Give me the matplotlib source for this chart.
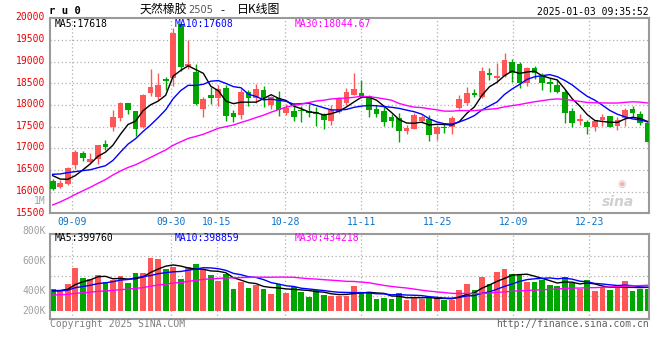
import numpy as np
import matplotlib
matplotlib.use("Agg")
import matplotlib.pyplot as plt
from matplotlib import transforms

# ------------------------------------------------------------------ data
dates = ["09-04", "09-05", "09-06", "09-09", "09-10", "09-11", "09-12", "09-13", "09-18", "09-19",
         "09-20", "09-23", "09-24", "09-25", "09-26", "09-27", "09-30",
         "10-08", "10-09", "10-10", "10-11", "10-14", "10-15", "10-16", "10-17", "10-18", "10-21",
         "10-22", "10-23", "10-24", "10-25", "10-28", "10-29", "10-30", "10-31",
         "11-01", "11-04", "11-05", "11-06", "11-07", "11-08", "11-11", "11-12", "11-13", "11-14",
         "11-15", "11-18", "11-19", "11-20", "11-21", "11-22", "11-25", "11-26", "11-27", "11-28", "11-29",
         "12-02", "12-03", "12-04", "12-05", "12-06", "12-09", "12-10", "12-11", "12-12", "12-13",
         "12-16", "12-17", "12-18", "12-19", "12-20", "12-23", "12-24", "12-25", "12-26", "12-27",
         "12-30", "12-31", "01-02", "01-03"]

open_ = [16246, 16100, 16185, 16608, 16885, 16692, 16746, 17092, 17500, 17692,
         18046, 17862, 17485, 18285, 18177, 18600, 18615, 19869, 18892, 18769,
         17908, 18231, 18154, 18392, 17815, 17769, 18300, 18154, 18346, 18000,
         18154, 17823, 17862, 17885, 17862, 17823, 17769, 17638, 17846, 18038,
         18231, 18269, 18208, 17908, 17862, 17723, 17708, 17408, 17454, 17638,
         17677, 17331, 17500, 17485, 17923, 18038, 18285, 18177, 18731, 18631,
         18677, 18985, 18938, 18500, 18862, 18669, 18531, 18462, 18308, 17862,
         17631, 17615, 17500, 17654, 17746, 17515, 17692, 17908, 17792, 17592]
high = [16285, 16270, 16577, 16969, 16946, 16892, 17085, 17192, 17885, 18062,
        18054, 17870, 18254, 18831, 18731, 18654, 19769, 19880, 19500, 18946,
        18177, 18423, 18454, 18454, 17885, 18362, 18346, 18485, 18438, 18208,
        18323, 18023, 18038, 17977, 18015, 17962, 17808, 18000, 18192, 18385,
        18731, 18577, 18231, 18000, 17962, 17785, 17808, 17538, 17808, 17769,
        17762, 17538, 17592, 17746, 18231, 18408, 18369, 18869, 18846, 18977,
        19192, 19062, 19000, 18885, 18900, 18731, 18615, 18577, 18346, 17923,
        17792, 17654, 17654, 17792, 17746, 17715, 17938, 17977, 17862, 17615]
low = [16038, 16077, 16162, 16515, 16715, 16654, 16638, 16962, 17408, 17638,
       17792, 17292, 17462, 18208, 18115, 18346, 18438, 18792, 18823, 18000,
       17731, 18015, 17985, 17631, 17615, 17677, 17985, 18038, 17962, 17900,
       17754, 17762, 17631, 17615, 17715, 17515, 17454, 17538, 17808, 18000,
       18231, 18154, 17715, 17715, 17515, 17485, 17154, 17323, 17438, 17592,
       17177, 17192, 17362, 17323, 17900, 18000, 18192, 18170, 18577, 18538,
       18654, 18538, 18385, 18438, 18592, 18346, 18308, 18285, 17577, 17500,
       17538, 17323, 17408, 17515, 17500, 17423, 17515, 17731, 17538, 17100]
close = [16062, 16200, 16554, 16915, 16777, 16762, 17069, 17023, 17731, 18039,
         17885, 17454, 18231, 18408, 18462, 18562, 19669, 18885, 18938, 18023,
         18139, 18169, 18377, 17746, 17723, 18308, 18169, 18377, 18154, 18177,
         17885, 17923, 17731, 17854, 17808, 17792, 17654, 17885, 18131, 18300,
         18369, 18208, 17885, 17792, 17608, 17631, 17408, 17477, 17769, 17731,
         17308, 17485, 17462, 17692, 18131, 18269, 18223, 18785, 18692, 18646,
         19038, 18746, 18515, 18862, 18731, 18515, 18477, 18308, 17823, 17592,
         17669, 17485, 17638, 17715, 17500, 17654, 17885, 17823, 17577, 17154]
volume = [411400, 400300, 444700, 553600, 487000, 475900, 504800, 458000, 471400, 500300,
          451400, 518100, 518100, 620300, 613600, 547000, 560300, 480300, 555800, 578000,
          540300, 504800, 467000, 509200, 411400, 460300, 420300, 435800, 413600, 378000,
          444700, 386900, 422500, 393600, 360300, 404700, 371400, 366900, 366900, 366900,
          431300, 391300, 391300, 344700, 351400, 344700, 384700, 338000, 351400, 344700,
          358000, 351400, 338000, 338000, 404700, 444700, 404700, 491300, 444700, 524700,
          544700, 511300, 511300, 458000, 458000, 471300, 438000, 431300, 491300, 451300,
          413600, 471300, 398000, 422500, 404700, 422500, 464700, 398000, 413600, 413600]

# sessions before the window (not drawn), estimated from where the MA lines start
pre_close = [14050, 14120, 14200, 14260, 14300, 14350, 14420, 14541,
             15300, 15450, 15600, 15700, 15800, 15900, 15981,
             16400, 16500, 16600, 16650, 16638,
             16120, 16254, 16675, 16547, 16559, 16595, 16579, 16495, 16114]
pre_volume = [350000, 365000, 340000, 372000, 360000, 348000, 366000, 355000, 370000, 345000,
              362000, 358000, 350000, 368000, 365500,
              352000, 360000, 348000, 362000, 353500,
              390000, 402000, 385000, 408000, 395000,
              392000, 405000, 398000, 393600]

tick_dates = ["09-09", "09-30", "10-15", "10-28", "11-11", "11-25", "12-09", "12-23"]
price_ticks = [15500, 16000, 16500, 17000, 17500, 18000, 18500, 19000, 19500, 20000]
vol_tick_labels = ["800K", "600K", "400K", "200K"]
price_legend = ["MA5:17618", "MA10:17608", "MA30:18044.67"]
vol_legend = ["MA5:399760", "MA10:398859", "MA30:434218"]
symbol = "r u 0"
title_name = "天然橡胶"
title_code = "2505"
title_kind = "日K线图"
timestamp = "2025-01-03 09:35:52"
copyright_txt = "Copyright 2025 SINA.COM"
url_txt = "http://finance.sina.com.cn"

# ------------------------------------------------------------------ style
RED = "#ff5757"
GREEN = "#00a600"
MA_COLORS = ["#000000", "#0000ff", "#ff00ff"]
GRID = "#b0b0b0"
FRAME = "#9a9a9a"
MONO = "DejaVu Sans Mono"
CJK = ["Noto Sans CJK SC", "DejaVu Sans"]

W, H = 660, 360
fig = plt.figure(figsize=(W / 100, H / 100), dpi=100)
fig.patch.set_facecolor("white")


def fx(px):
    return px / W


def fy(py):
    return 1 - py / H


P_L, P_R, P_T, P_B = 50, 649, 18.3, 213.3
V_T, V_B = 234.3, 319.3
axp = fig.add_axes([fx(P_L), fy(P_B), (P_R - P_L) / W, (P_B - P_T) / H])
axv = fig.add_axes([fx(P_L), fy(V_B), (P_R - P_L) / W, (V_B - V_T) / H])

n = len(close)
x = np.arange(n)
o = np.array(open_, float)
h = np.array(high, float)
l = np.array(low, float)
c = np.array(close, float)
v = np.array(volume, float)
up = c >= o
cols = np.where(up, RED, GREEN)

STEP = 7.53          # px per session
X0 = 52.7            # px of first session
xlim = ((P_L - X0) / STEP, (P_R - X0) / STEP)


def sma(series, k):
    return np.convolve(series, np.ones(k) / k, mode="valid")


full_c = np.r_[np.array(pre_close, float), c]
full_v = np.r_[np.array(pre_volume, float), v]
ma_p = [sma(full_c, k)[-n:] for k in (5, 10, 30)]
ma_v = [sma(full_v, k)[-n:] for k in (5, 10, 30)]

# grid positions for date labels (Sina spaces them slightly wider than bars)
tick_idx = np.array([dates.index(d) for d in tick_dates], float)
grid_x = tick_idx - 0.43 + 0.0097 * tick_idx

# ---------------- price panel
axp.set_xlim(*xlim)
axp.set_ylim(15500, 20000)
for yv in price_ticks[1:-1]:
    axp.axhline(yv, color=GRID, lw=0.9, ls=(0, (1, 2)), zorder=0)
for gx in grid_x:
    axp.axvline(gx, color=GRID, lw=0.9, ls=(0, (1, 2)), zorder=0)

axp.vlines(x, l, h, colors=cols, lw=1.0, zorder=2)
body_bot = np.minimum(o, c)
body_h = np.maximum(np.abs(c - o), 40)
axp.bar(x, body_h, bottom=body_bot, width=0.76, color=cols, lw=0, zorder=3)
for m, col in zip(ma_p, MA_COLORS):
    axp.plot(x, m, color=col, lw=1.0, zorder=4)

axp.set_xticks([])
axp.set_yticks(price_ticks)
axp.set_yticklabels([str(t) for t in price_ticks], family=MONO, fontsize=7, color="#ee0000")
axp.tick_params(axis="y", length=0, pad=3.5)
lift = transforms.ScaledTranslation(0, 1.8 / 100, fig.dpi_scale_trans)
for lab in axp.get_yticklabels():
    lab.set_transform(lab.get_transform() + lift)
for s in axp.spines.values():
    s.set_color(FRAME)
    s.set_linewidth(1.5)

tr = transforms.blended_transform_factory(axp.transData, axp.transAxes)
for gx, lab in zip(grid_x, tick_dates):
    axp.text(gx, -(221.7 - P_B) / (P_B - P_T), lab, transform=tr, ha="center", va="center",
             family=MONO, fontsize=7, color="#0a72c8", clip_on=False)

# watermark
axp.text(0.975, 0.06, "sina", transform=axp.transAxes, ha="right", va="center",
         fontsize=10, style="italic", weight="bold", color="#d0d0d0", zorder=1)
axp.text(0.955, 0.15, "◉", transform=axp.transAxes, ha="center", va="center",
         fontsize=7, color="#e6b8b8", zorder=1, family="DejaVu Sans")

# ---------------- volume panel
VPX = 200000 / 30.0                     # volume units per pixel
V_REF_PX, V_REF = 290.7, 400000         # 400K label row
v_at = lambda py: V_REF + (V_REF_PX - py) * VPX
axv.set_xlim(*xlim)
axv.set_ylim(v_at(V_B), v_at(V_T))
vol_floor = v_at(310.7)
for py in (255.7, 275.7, 295.7):
    axv.axhline(v_at(py), color=GRID, lw=0.9, ls=(0, (1, 2)), zorder=0)
for gx in grid_x:
    axv.axvline(gx, color=GRID, lw=0.9, ls=(0, (1, 2)), zorder=0)
axv.bar(x, v - vol_floor, bottom=vol_floor, width=0.76, color=cols, lw=0, zorder=2)
for m, col in zip(ma_v, MA_COLORS):
    axv.plot(x, m, color=col, lw=1.0, zorder=3)
axv.set_xticks([])
axv.set_yticks([])
for s in axv.spines.values():
    s.set_color(FRAME)
    s.set_linewidth(1.5)

# ---------------- texts
txt = dict(family=MONO, fontsize=7, va="center")
fig.text(fx(49), fy(11.5), symbol, family=MONO, fontsize=7.6, weight="bold", va="center")
fig.text(fx(140), fy(9.8), title_name, family=CJK, fontsize=8.6, va="center")
fig.text(fx(188.5), fy(10.3), title_code, family="DejaVu Sans", fontsize=7, color="#555555", va="center")
fig.text(fx(220.5), fy(10.3), "-", family="DejaVu Sans", fontsize=8, va="center")
fig.text(fx(237), fy(9.8), title_kind, family=CJK, fontsize=8.6, va="center")
fig.text(fx(648.5), fy(11.7), timestamp, ha="right", **txt)

for xp, lab, col in zip((55, 175, 295), price_legend, MA_COLORS):
    fig.text(fx(xp), fy(24.0), lab, color=col, **txt)
for xp, lab, col in zip((55, 175, 295), vol_legend, MA_COLORS):
    fig.text(fx(xp), fy(238.3), lab, color=col, **txt)

fig.text(fx(46), fy(201.5), "1M", ha="right", color="#a0a0a0", **txt)
for py, lab in zip((230.7, 260.7, 290.7, 310.7), vol_tick_labels):
    fig.text(fx(46), fy(py), lab, ha="right", color="#a0a0a0", **txt)

fig.text(fx(50), fy(324.2), copyright_txt, ha="left", color="#808080", **txt)
fig.text(fx(649), fy(324.2), url_txt, ha="right", color="#606060", **txt)

fig.savefig("out.png", dpi=100, facecolor="white")
